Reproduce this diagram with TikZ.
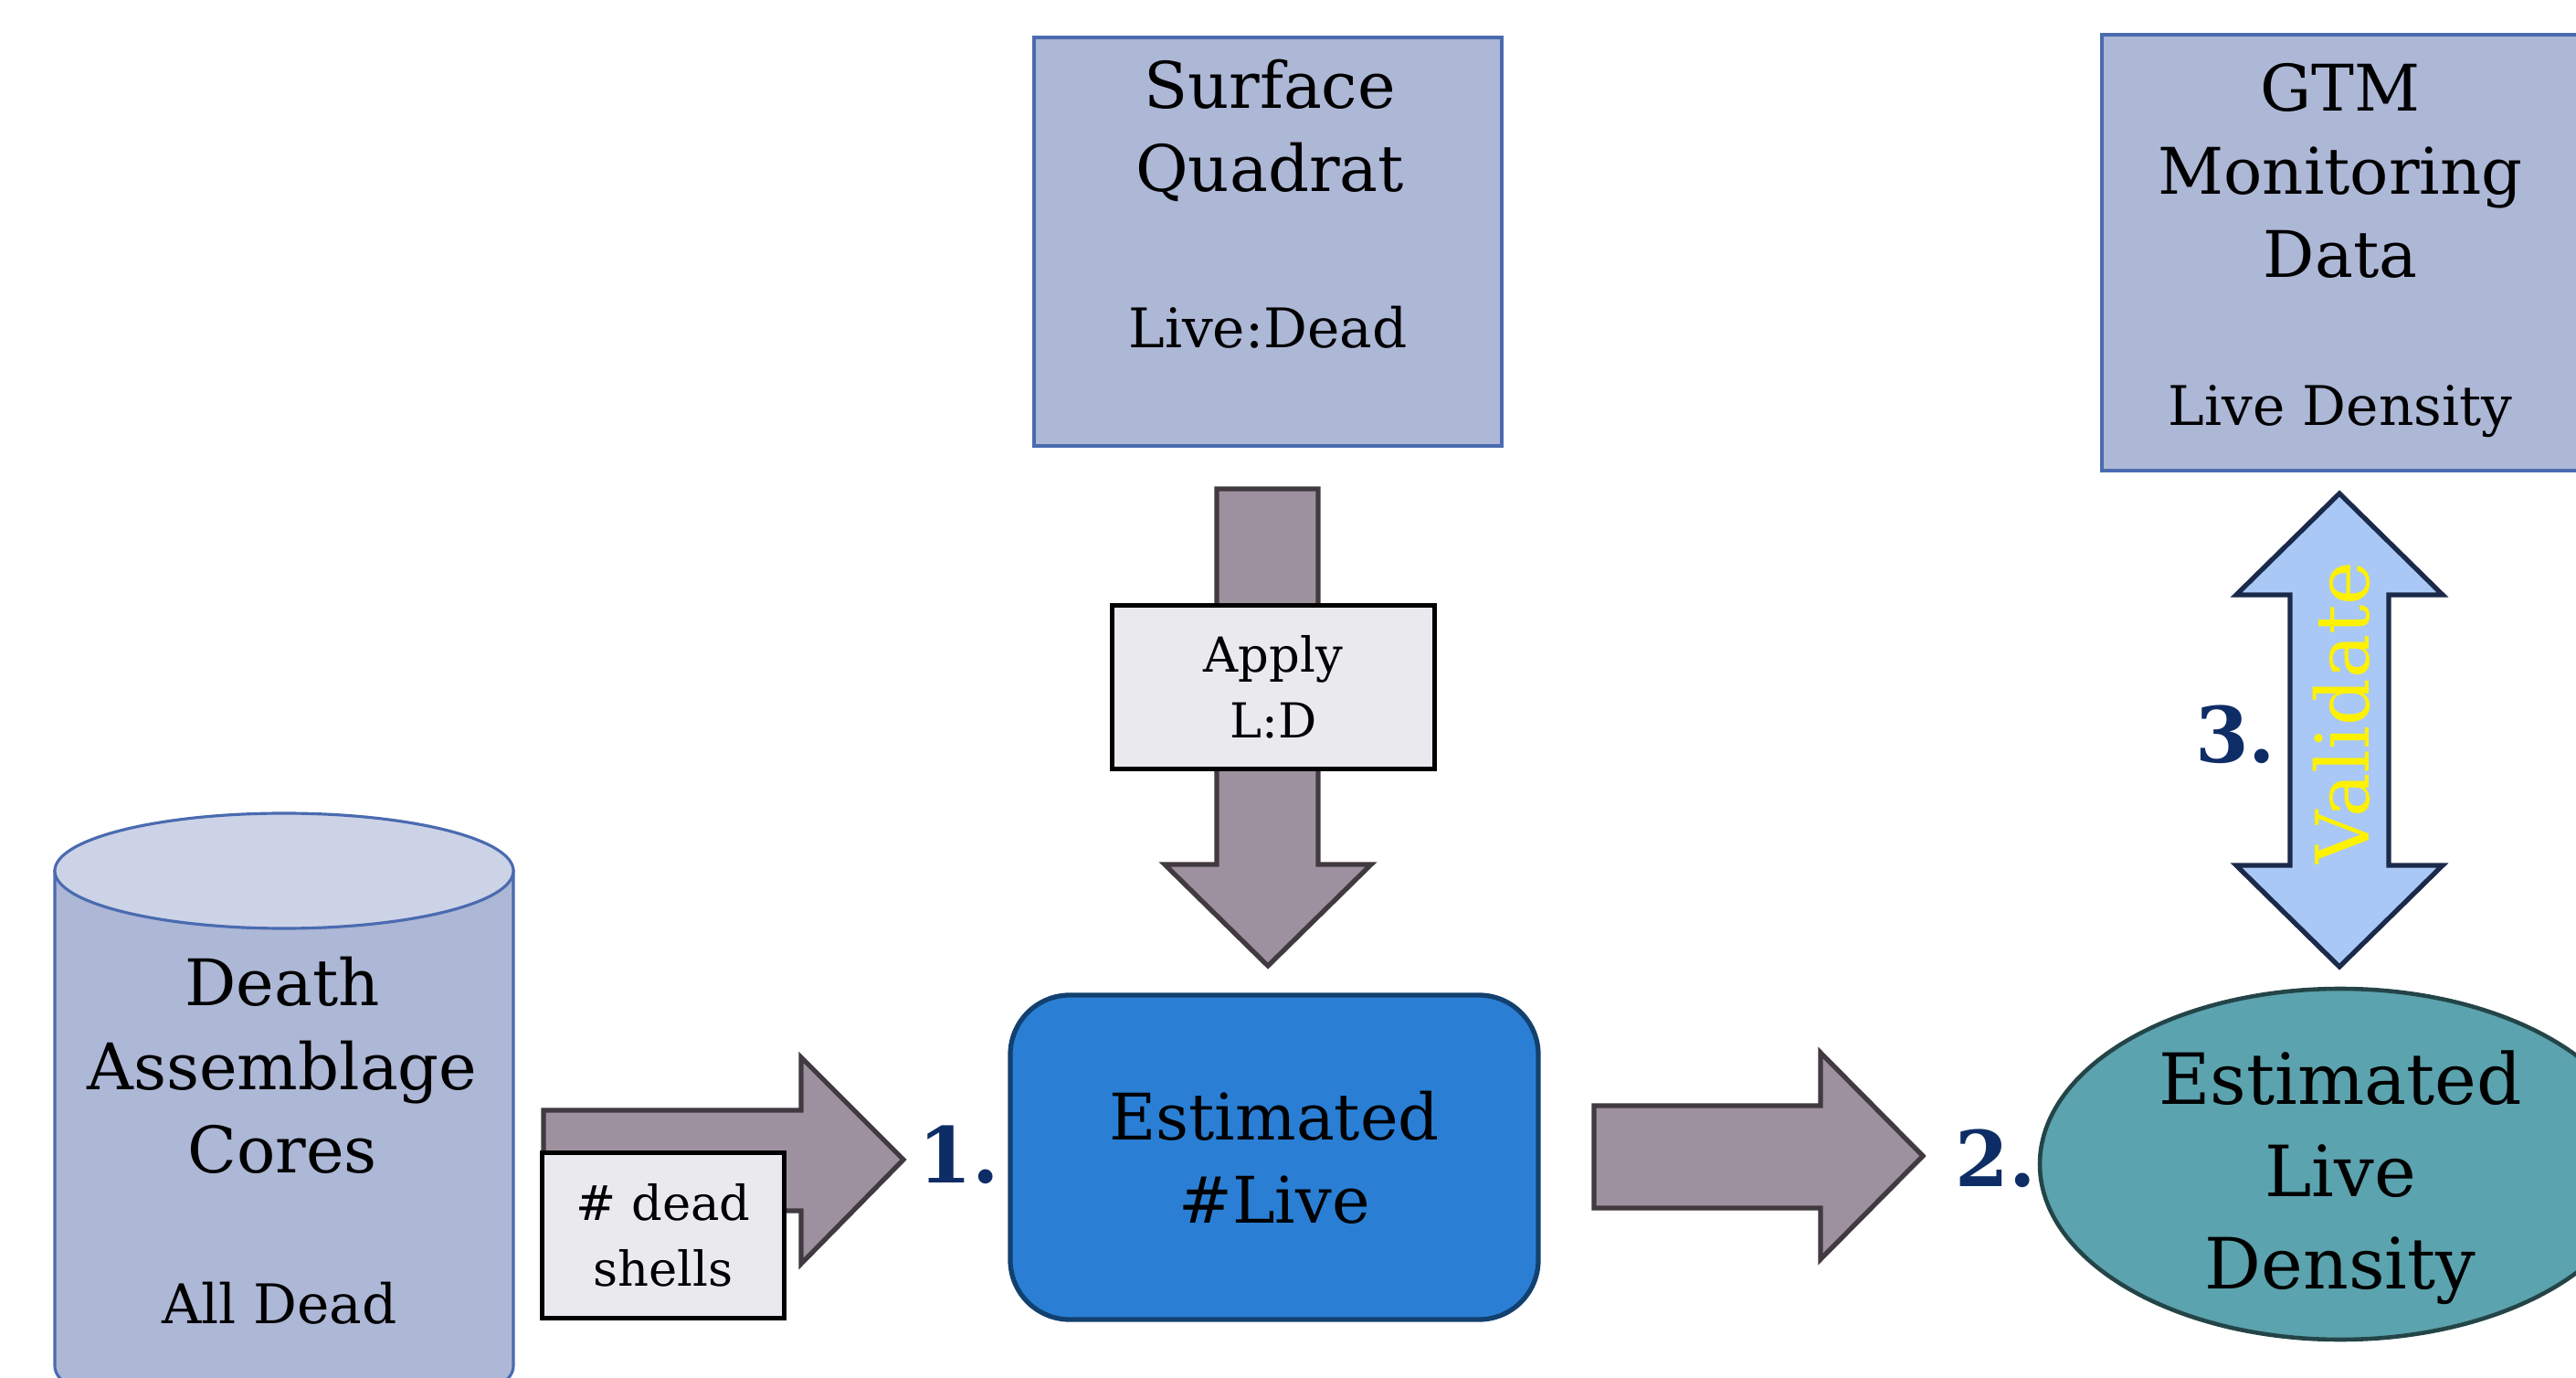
\documentclass[tikz,border=0pt]{standalone}
\usepackage{fontspec}
\setmainfont{DejaVu Serif}
\usetikzlibrary{shapes,arrows}
\definecolor{boxblue}{HTML}{ADB7D6}
\definecolor{boxline}{HTML}{4A6BB0}
\definecolor{captop}{HTML}{CDD3E7}
\definecolor{arrowgray}{HTML}{9E919F}
\definecolor{arrowline}{HTML}{413A40}
\definecolor{taggray}{HTML}{EAE9EE}
\definecolor{livefill}{HTML}{2A7FD5}
\definecolor{liveline}{HTML}{12406F}
\definecolor{densfill}{HTML}{5BA3AE}
\definecolor{densline}{HTML}{244548}
\definecolor{valfill}{HTML}{A9C8F5}
\definecolor{valline}{HTML}{1B2A4A}
\definecolor{numblue}{HTML}{0E2D66}

\tikzstyle{src} = [draw=boxline, fill=boxblue, rectangle, line width=1.2pt]
\tikzstyle{tag} = [draw=black, fill=taggray, rectangle, line width=1.5pt,
    align=center, inner sep=0pt, font=\fontsize{15}{20.5}\selectfont]
\tikzstyle{fat} = [draw=arrowline, fill=arrowgray, line width=1.5pt, line join=miter]
\tikzstyle{txt} = [align=center, inner sep=0pt]
\tikzstyle{big} = [txt, font=\fontsize{20}{26}\selectfont]
\tikzstyle{small} = [txt, font=\fontsize{17}{20}\selectfont]
\tikzstyle{num} = [text=numblue, inner sep=0pt, font=\bfseries\fontsize{24}{24}\selectfont]

\begin{document}
\begin{tikzpicture}
\useasboundingbox (0,0) rectangle (28.2,-15.08);
\clip (0,0) rectangle (28.2,-15.08);

% cores
\draw[draw=boxline, fill=boxblue, line width=0.9pt] (0.60,-9.53) -- (0.60,-14.95)
    arc[start angle=180, end angle=360, x radius=2.51, y radius=0.63] -- (5.62,-9.53) -- cycle;
\draw[draw=boxline, fill=captop, line width=0.9pt] (3.11,-9.53) ellipse [x radius=2.51, y radius=0.63];
\node[big, name=cores] at (3.09,-11.66) {Death\\Assemblage\\Cores};
\node[small, name=alldead] at (3.06,-14.26) {All Dead};

% surface quadrat
\node[src, name=quad, minimum width=5.12cm, minimum height=4.47cm] at (13.88,-2.645) {};
\node[big, name=quadtxt] at (13.90,-1.43) {Surface\\Quadrat};
\node[small, name=ratio] at (13.88,-3.58) {Live:Dead};

% gtm
\node[src, name=gtm, minimum width=5.5cm, minimum height=4.77cm] at (25.76,-2.765) {};
\node[big, name=gtmtxt] at (25.62,-1.87) {GTM\\Monitoring\\Data};
\node[small, name=livedens] at (25.62,-4.50) {Live Density};

% arrows
\coordinate (dtip) at (13.88,-10.57);
\draw[fat] (13.32,-5.35) -- (14.43,-5.35) -- (14.43,-9.46) -- (15.01,-9.46) -- (dtip)
    -- (12.75,-9.46) -- (13.32,-9.46) -- cycle;

\coordinate (ltip) at (9.89,-12.69);
\draw[fat] (5.95,-12.15) -- (8.77,-12.15) -- (8.77,-11.57) -- (ltip) -- (8.77,-13.83)
    -- (8.77,-13.25) -- (5.95,-13.25) -- cycle;

\coordinate (mtip) at (21.05,-12.65);
\draw[fat] (17.45,-12.10) -- (19.93,-12.10) -- (19.93,-11.52) -- (mtip) -- (19.93,-13.78)
    -- (19.93,-13.22) -- (17.45,-13.22) -- cycle;

\coordinate (vtop) at (25.61,-5.40);
\coordinate (vbot) at (25.61,-10.58);
\draw[draw=valline, fill=valfill, line width=1.5pt, line join=miter] (vtop) -- (26.74,-6.51)
    -- (26.15,-6.51) -- (26.15,-9.47) -- (26.74,-9.47) -- (vbot) -- (24.48,-9.47)
    -- (25.07,-9.47) -- (25.07,-6.51) -- (24.48,-6.51) -- cycle;
\node[txt, name=valid, rotate=90, text=yellow, font=\fontsize{23}{23}\selectfont] at (25.63,-7.80) {Validate};

% labels on arrows
\node[tag, name=apply, minimum width=3.53cm, minimum height=1.79cm] at (13.94,-7.52) {Apply\\L:D};
\node[tag, name=shells, minimum width=2.65cm, minimum height=1.81cm] at (7.26,-13.52) {\#~dead\\shells};

% results
\node[draw=liveline, fill=livefill, rectangle, rounded corners=0.65cm, line width=1.5pt,
    minimum width=5.78cm, minimum height=3.55cm, big, name=live] at (13.95,-12.665) {Estimated\\\#Live};
\node[draw=densline, fill=densfill, ellipse, line width=1.3pt, inner sep=0pt,
    minimum width=6.58cm, minimum height=3.84cm, name=dens] at (25.62,-12.74) {};
\node[txt, font=\fontsize{22}{28.7}\selectfont, name=denstxt] at ([yshift=-0.15cm]dens.center) {Estimated\\Live\\Density};

% steps
\node[num, name=one] at (10.50,-12.64) {1.};
\node[num, name=two] at (21.85,-12.68) {2.};
\node[num, name=three] at (24.47,-8.04) {3.};

\end{tikzpicture}
\end{document}
